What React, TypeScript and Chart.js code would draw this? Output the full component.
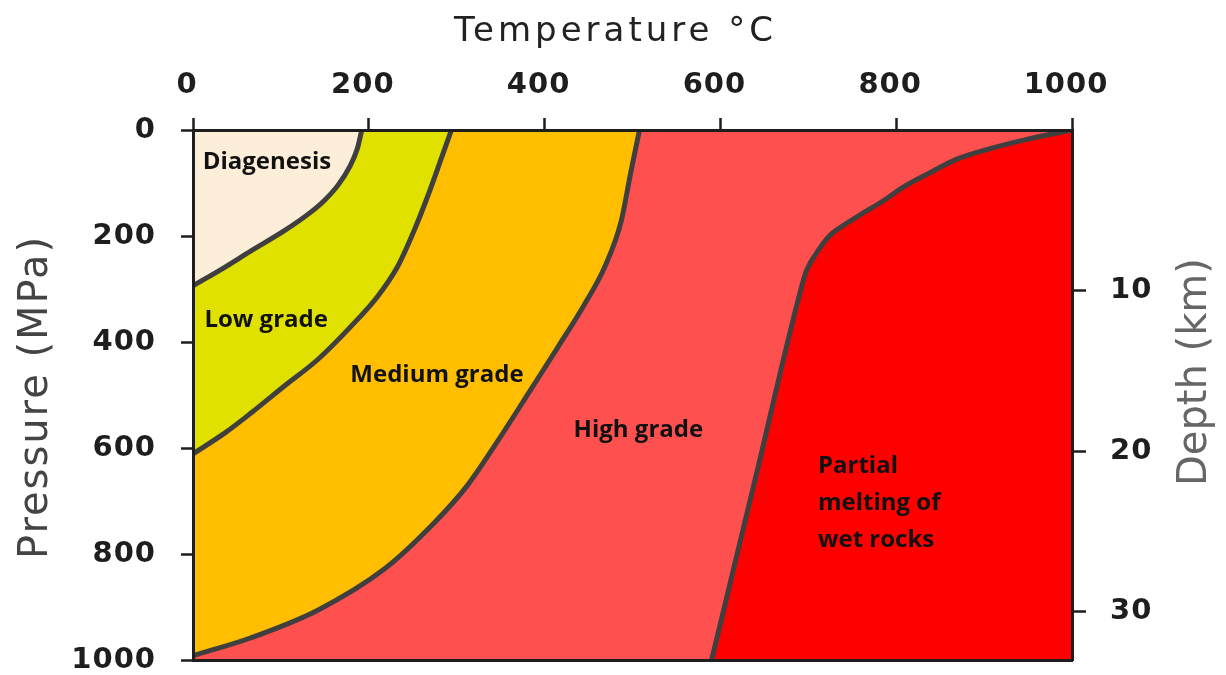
import React, { useEffect, useRef } from 'react';
import { Chart, registerables } from 'chart.js';

Chart.register(...registerables);

// ---- axis ranges and ticks ----
const tempMin = 0;
const tempMax = 1000;
const pressureMin = 0;
const pressureMax = 1000;
const depthMin = 0;
const depthMax = 33;
const tempTicks = [0, 200, 400, 600, 800, 1000];
const pressureTicks = [0, 200, 400, 600, 800, 1000];
const depthTicks = [10, 20, 30];

// ---- boundary curves (temperature °C, pressure MPa) ----
const diagenesisT = [0, 36, 66, 104, 134, 150, 165, 178, 187, 192];
const diagenesisP = [294, 259, 228, 190, 155, 132, 104, 70, 35, 0];

const lowGradeT = [0, 36, 66, 104, 142, 180, 210, 233, 252, 267, 282, 294];
const lowGradeP = [611, 572, 534, 483, 433, 370, 314, 257, 188, 125, 56, 0];

const mediumGradeT = [0, 66, 142, 218, 274, 312, 347, 385, 415, 445, 468, 487, 498, 508];
const mediumGradeP = [992, 958, 906, 828, 742, 671, 586, 488, 410, 330, 260, 173, 80, 0];

const partialMeltT = [590, 641, 692, 698, 709, 724, 740, 762, 785, 808, 838, 869, 907, 945, 1000];
const partialMeltP = [1000, 649, 298, 265, 233, 200, 180, 157, 134, 108, 81, 55, 35, 19, 0];

// ---- region labels ----
const regionLabels = ['Diagenesis', 'Low grade', 'Medium grade', 'High grade', 'Partial\nmelting of\nwet rocks'];
const labelT = [11, 13, 179, 433, 711];
const labelP = [60, 358, 463, 567, 635];

const xTitle = 'Temperature °C';
const yTitle = 'Pressure (MPa)';
const y2Title = 'Depth (km)';

// ---- styles ----
const COLORS = {
  diagenesis: '#FCEED8',
  low: '#E1E100',
  medium: '#FFBF00',
  high: '#FF5050',
  partial: '#FF0000',
  boundary: '#3f3f3f',
  axis: '#1e1e1e',
};

const pts = (t: number[], p: number[]) => t.map((x, i) => ({ x, y: p[i] }));

export default function App() {
  const ref = useRef<HTMLCanvasElement>(null);

  useEffect(() => {
    document.body.style.margin = '0';
    document.body.style.overflow = 'hidden';
    const canvas = ref.current;
    if (!canvas) return;

    const diag = pts(diagenesisT, diagenesisP);
    const low = pts(lowGradeT, lowGradeP);
    const med = pts(mediumGradeT, mediumGradeP);
    const melt = pts(partialMeltT, partialMeltP);
    const highBase = [
      { x: tempMin, y: pressureMax },
      { x: tempMax, y: pressureMax },
    ];

    // each boundary curve fills toward the top (P = 0) or bottom (P = max) edge
    const regionDs = (data: any[], color: string, toValue: number, order: number, line = true) => ({
      data,
      showLine: true,
      fill: { target: { value: toValue } },
      backgroundColor: color,
      borderColor: line ? COLORS.boundary : 'transparent',
      borderWidth: line ? 5 : 0,
      borderCapStyle: 'round',
      borderJoinStyle: 'round',
      cubicInterpolationMode: 'monotone',
      pointRadius: 0,
      pointHoverRadius: 0,
      order,
    });

    const tickFont = { family: '"DejaVu Sans"', size: 29, weight: 'bold' as const };

    const textPlugin = {
      id: 'textPlugin',
      beforeDraw(chart: any) {
        chart.ctx.letterSpacing = '1px';
      },
      afterDatasetsDraw(chart: any) {
        const { ctx, scales } = chart;
        const xs = scales.x;
        const ys = scales.y;
        ctx.save();
        ctx.letterSpacing = '0px';
        ctx.font = 'bold 24px "Open Sans"';
        ctx.fillStyle = '#111';
        ctx.textAlign = 'left';
        ctx.textBaseline = 'middle';
        regionLabels.forEach((lab, i) => {
          const px = xs.getPixelForValue(labelT[i]);
          const py = ys.getPixelForValue(labelP[i]);
          lab.split('\n').forEach((ln, j) => ctx.fillText(ln, px, py + j * 37));
        });
        ctx.restore();
      },
      afterDraw(chart: any) {
        const { ctx, chartArea } = chart;
        const cx = (chartArea.left + chartArea.right) / 2;
        const cy = (chartArea.top + chartArea.bottom) / 2;
        ctx.save();
        ctx.textAlign = 'center';
        ctx.textBaseline = 'middle';
        // top title
        ctx.letterSpacing = '4px';
        ctx.font = '34px "DejaVu Sans"';
        ctx.fillStyle = '#222';
        ctx.fillText(xTitle, cx - 17, 32);
        // left title
        ctx.letterSpacing = '2px';
        ctx.font = '40px "DejaVu Sans"';
        ctx.fillStyle = '#444';
        ctx.save();
        ctx.translate(37, cy + 2);
        ctx.rotate(-Math.PI / 2);
        ctx.fillText(yTitle, 0, 0);
        ctx.restore();
        // right title
        ctx.letterSpacing = '0px';
        ctx.font = '40px "DejaVu Sans"';
        ctx.fillStyle = '#666';
        ctx.save();
        ctx.translate(chartArea.right + 124, cy - 23);
        ctx.rotate(-Math.PI / 2);
        ctx.fillText(y2Title, 0, 0);
        ctx.restore();
        ctx.restore();
      },
    };

    const noPad = (s: any) => {
      s.paddingTop = 0;
      s.paddingBottom = 0;
      s.paddingLeft = 0;
      s.paddingRight = 0;
    };

    const chart = new Chart(canvas, {
      type: 'scatter',
      data: {
        datasets: [
          regionDs(diag, COLORS.diagenesis, pressureMin, 2),
          regionDs(low, COLORS.low, pressureMin, 3),
          regionDs(med, COLORS.medium, pressureMin, 4),
          regionDs(melt, COLORS.partial, pressureMax, 5),
          regionDs(highBase, COLORS.high, pressureMin, 10, false),
        ] as any,
      },
      options: {
        animation: false,
        responsive: true,
        maintainAspectRatio: false,
        devicePixelRatio: 1,
        layout: { padding: 0, autoPadding: false },
        plugins: { legend: { display: false }, tooltip: { enabled: false } },
        events: [],
        scales: {
          x: {
            type: 'linear',
            position: 'top',
            min: tempMin,
            max: tempMax,
            afterBuildTicks: (s: any) => {
              s.ticks = tempTicks.map((v) => ({ value: v }));
            },
            afterFit: (s: any) => {
              s.height = 130;
              noPad(s);
            },
            ticks: {
              font: tickFont,
              color: COLORS.axis,
              padding: 15,
              labelOffset: -6,
              maxRotation: 0,
              minRotation: 0,
              autoSkip: false,
              callback: (v: any) => String(v),
            },
            grid: {
              display: true,
              drawOnChartArea: false,
              drawTicks: true,
              tickLength: 12,
              tickColor: COLORS.axis,
              tickWidth: 2.5,
            },
            border: { display: true, color: COLORS.axis, width: 3, z: 1 },
          },
          x2: {
            type: 'linear',
            position: 'bottom',
            min: tempMin,
            max: tempMax,
            afterFit: (s: any) => {
              s.height = 15;
              noPad(s);
            },
            ticks: { display: false },
            grid: { display: false, drawTicks: false },
            border: { display: true, color: COLORS.axis, width: 3, z: 1 },
          },
          y: {
            type: 'linear',
            position: 'left',
            reverse: true,
            min: pressureMin,
            max: pressureMax,
            afterBuildTicks: (s: any) => {
              s.ticks = pressureTicks.map((v) => ({ value: v }));
            },
            afterFit: (s: any) => {
              s.width = 193;
              noPad(s);
            },
            ticks: {
              font: tickFont,
              color: COLORS.axis,
              padding: 25,
              autoSkip: false,
              callback: (v: any) => String(v),
            },
            grid: {
              display: true,
              drawOnChartArea: false,
              drawTicks: true,
              tickLength: 12,
              tickColor: COLORS.axis,
              tickWidth: 2.5,
            },
            border: { display: true, color: COLORS.axis, width: 3, z: 1 },
          },
          y2: {
            type: 'linear',
            position: 'right',
            reverse: true,
            min: depthMin,
            max: depthMax,
            afterBuildTicks: (s: any) => {
              s.ticks = depthTicks.map((v) => ({ value: v }));
            },
            afterFit: (s: any) => {
              s.width = 154;
              noPad(s);
            },
            ticks: {
              font: tickFont,
              color: COLORS.axis,
              padding: 24,
              autoSkip: false,
              callback: (v: any) => String(v),
            },
            grid: {
              display: true,
              drawOnChartArea: false,
              drawTicks: true,
              tickLength: 14,
              tickColor: COLORS.axis,
              tickWidth: 2.5,
            },
            border: { display: true, color: COLORS.axis, width: 3, z: 1 },
          },
        },
      } as any,
      plugins: [textPlugin as any],
    });

    return () => chart.destroy();
  }, []);

  return (
    <div style={{ width: 1226, height: 675, position: 'relative', background: '#fff' }}>
      <canvas ref={ref} />
    </div>
  );
}
